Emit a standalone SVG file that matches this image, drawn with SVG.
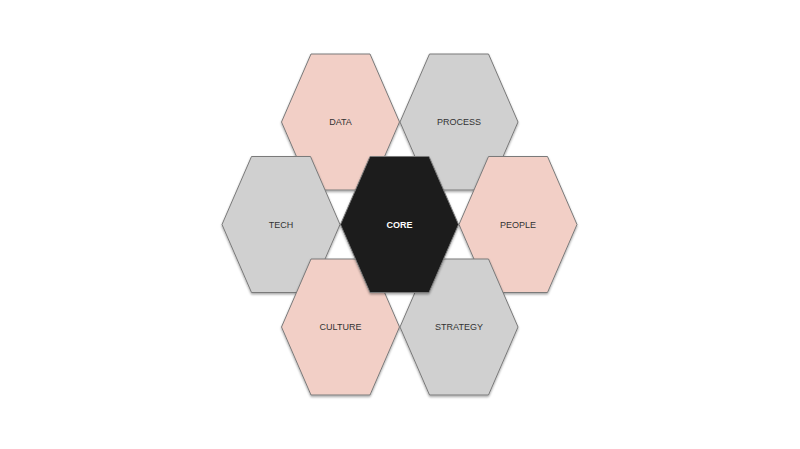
<svg xmlns="http://www.w3.org/2000/svg" width="800" height="449" viewBox="0 0 800 449">
<style>
.hex{stroke:#7a7a7a;stroke-width:1;filter:url(#sh)}
.pink{fill:#f2cfc6}
.gray{fill:#d0d0d0}
.dark{fill:#1a1a1a}
.lbl{font-family:"Liberation Sans",Arial,sans-serif;font-size:9px;fill:#333;text-anchor:middle;dominant-baseline:central}
.core{fill:#fff;font-weight:bold}
</style>
<defs>
<path id="h" d="M-59,0 L-29.5,-68 L29.5,-68 L59,0 L29.5,68 L-29.5,68 Z"/>
<filter id="sh" x="-20%" y="-20%" width="140%" height="140%">
<feDropShadow dx="0" dy="1.5" stdDeviation="1" flood-color="#000" flood-opacity="0.35"/>
</filter>
</defs>
<rect width="800" height="449" fill="#fff"/>
<g id="connectors"/>
<g id="data" transform="translate(340.5,122)"><use href="#h" class="hex pink"/><text class="lbl" x="0" y="0">DATA</text></g>
<g id="process" transform="translate(459,122)"><use href="#h" class="hex gray"/><text class="lbl" x="0" y="0">PROCESS</text></g>
<g id="tech" transform="translate(281,224.5)"><use href="#h" class="hex gray"/><text class="lbl" x="0" y="0">TECH</text></g>
<g id="people" transform="translate(518,224.5)"><use href="#h" class="hex pink"/><text class="lbl" x="0" y="0">PEOPLE</text></g>
<g id="culture" transform="translate(340.5,327)"><use href="#h" class="hex pink"/><text class="lbl" x="0" y="0">CULTURE</text></g>
<g id="strategy" transform="translate(459,327)"><use href="#h" class="hex gray"/><text class="lbl" x="0" y="0">STRATEGY</text></g>
<g id="core" transform="translate(399.5,224.5)"><use href="#h" class="hex dark"/><text class="lbl core" x="0" y="0">CORE</text></g>
</svg>
